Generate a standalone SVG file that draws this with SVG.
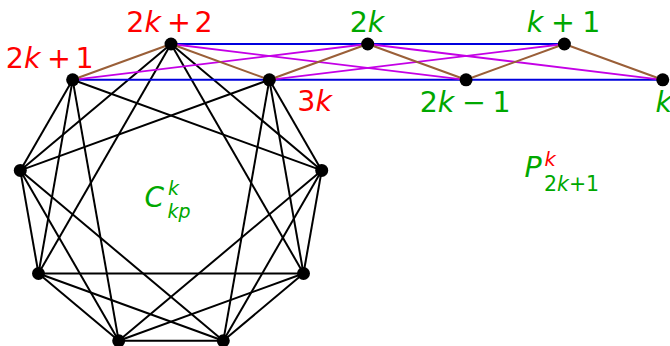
<svg xmlns="http://www.w3.org/2000/svg" width="670" height="346" viewBox="0 0 670 346">
<style>
.b{stroke:#000;stroke-width:2;fill:none}
.bl{stroke:#0000dd;stroke-width:2;fill:none}
.mg{stroke:#c400e6;stroke-width:1.8;fill:none}
.br{stroke:#9a5f38;stroke-width:2;fill:none}
.nd{fill:#000}
text{font-family:"DejaVu Sans",sans-serif}
.lb{font-size:28.5px}
.r{fill:#ff0000}
.g{fill:#00a800}
.i{font-style:italic}
</style>
<g id="connectors">
<g id="cycle-edges">
<line class="b" x1="269.35" y1="79.8" x2="321.7" y2="170.4"/>
<line class="b" x1="321.7" y1="170.4" x2="303.5" y2="273.5"/>
<line class="b" x1="303.5" y1="273.5" x2="223.3" y2="340.8"/>
<line class="b" x1="223.3" y1="340.8" x2="118.7" y2="340.8"/>
<line class="b" x1="118.7" y1="340.8" x2="38.5" y2="273.5"/>
<line class="b" x1="38.5" y1="273.5" x2="20.3" y2="170.4"/>
<line class="b" x1="20.3" y1="170.4" x2="72.65" y2="79.8"/>
<line class="b" x1="171" y1="44" x2="321.7" y2="170.4"/>
<line class="b" x1="269.35" y1="79.8" x2="303.5" y2="273.5"/>
<line class="b" x1="321.7" y1="170.4" x2="223.3" y2="340.8"/>
<line class="b" x1="303.5" y1="273.5" x2="118.7" y2="340.8"/>
<line class="b" x1="223.3" y1="340.8" x2="38.5" y2="273.5"/>
<line class="b" x1="118.7" y1="340.8" x2="20.3" y2="170.4"/>
<line class="b" x1="38.5" y1="273.5" x2="72.65" y2="79.8"/>
<line class="b" x1="20.3" y1="170.4" x2="171" y2="44"/>
<line class="b" x1="171" y1="44" x2="303.5" y2="273.5"/>
<line class="b" x1="269.35" y1="79.8" x2="223.3" y2="340.8"/>
<line class="b" x1="321.7" y1="170.4" x2="118.7" y2="340.8"/>
<line class="b" x1="303.5" y1="273.5" x2="38.5" y2="273.5"/>
<line class="b" x1="223.3" y1="340.8" x2="20.3" y2="170.4"/>
<line class="b" x1="118.7" y1="340.8" x2="72.65" y2="79.8"/>
<line class="b" x1="38.5" y1="273.5" x2="171" y2="44"/>
<line class="b" x1="20.3" y1="170.4" x2="269.35" y2="79.8"/>
<line class="b" x1="72.65" y1="79.8" x2="321.7" y2="170.4"/>
</g>
<g id="path-edges">
<line class="bl" x1="72.65" y1="79.8" x2="269.35" y2="79.8"/>
<line class="bl" x1="269.35" y1="79.8" x2="466.05" y2="79.8"/>
<line class="bl" x1="466.05" y1="79.8" x2="662.75" y2="79.8"/>
<line class="bl" x1="171" y1="44" x2="367.7" y2="44"/>
<line class="bl" x1="367.7" y1="44" x2="564.4" y2="44"/>
<line class="mg" x1="72.65" y1="79.8" x2="367.7" y2="44"/>
<line class="mg" x1="171" y1="44" x2="466.05" y2="79.8"/>
<line class="mg" x1="269.35" y1="79.8" x2="564.4" y2="44"/>
<line class="mg" x1="367.7" y1="44" x2="662.75" y2="79.8"/>
<line class="br" x1="72.65" y1="79.8" x2="171" y2="44"/>
<line class="br" x1="171" y1="44" x2="269.35" y2="79.8"/>
<line class="br" x1="269.35" y1="79.8" x2="367.7" y2="44"/>
<line class="br" x1="367.7" y1="44" x2="466.05" y2="79.8"/>
<line class="br" x1="466.05" y1="79.8" x2="564.4" y2="44"/>
<line class="br" x1="564.4" y1="44" x2="662.75" y2="79.8"/>
</g>
</g>
<g id="n-2k1"><circle class="nd" cx="72.65" cy="79.8" r="6.5"/><text class="lb r" y="68"><tspan x="5.8">2</tspan><tspan class="i">k</tspan><tspan x="47">+</tspan><tspan x="75.5">1</tspan></text></g>
<g id="n-2k2"><circle class="nd" cx="171" cy="44" r="6.5"/><text class="lb r" y="32"><tspan x="126.3">2</tspan><tspan class="i">k</tspan><tspan x="167">+</tspan><tspan x="194.5">2</tspan></text></g>
<g id="n-3k"><circle class="nd" cx="269.35" cy="79.8" r="6.5"/><text class="lb r" y="111"><tspan x="297.3">3</tspan><tspan class="i">k</tspan></text></g>
<g id="n-2k"><circle class="nd" cx="367.7" cy="44" r="6.5"/><text class="lb g" y="32"><tspan x="349.7">2</tspan><tspan class="i">k</tspan></text></g>
<g id="n-2km1"><circle class="nd" cx="466.05" cy="79.8" r="6.5"/><text class="lb g" y="112"><tspan x="419.7">2</tspan><tspan class="i">k</tspan><tspan x="462">−</tspan><tspan x="492.5">1</tspan></text></g>
<g id="n-k1"><circle class="nd" cx="564.4" cy="44" r="6.5"/><text class="lb g" y="32"><tspan x="526.8" class="i">k</tspan><tspan x="551">+</tspan><tspan x="582.3">1</tspan></text></g>
<g id="n-k"><circle class="nd" cx="662.75" cy="79.8" r="6.5"/><text class="lb g i" x="655.5" y="112">k</text></g>
<g id="c-nodes">
<circle class="nd" cx="321.7" cy="170.4" r="6.5"/>
<circle class="nd" cx="303.5" cy="273.5" r="6.5"/>
<circle class="nd" cx="223.3" cy="340.8" r="6.5"/>
<circle class="nd" cx="118.7" cy="340.8" r="6.5"/>
<circle class="nd" cx="38.5" cy="273.5" r="6.5"/>
<circle class="nd" cx="20.3" cy="170.4" r="6.5"/>
</g>
<g id="label-C"><text class="g i"><tspan x="144.5" y="207" font-size="28">C</tspan><tspan x="168" y="194.5" font-size="19">k</tspan><tspan x="167.5" y="218" font-size="19">kp</tspan></text></g>
<g id="label-P"><text class="g"><tspan class="i" x="524.5" y="177" font-size="28.5">P</tspan><tspan class="r i" x="544.5" y="166" font-size="19.5">k</tspan><tspan x="544" y="191" font-size="20.5">2<tspan class="i">k</tspan>+1</tspan></text></g>
</svg>
